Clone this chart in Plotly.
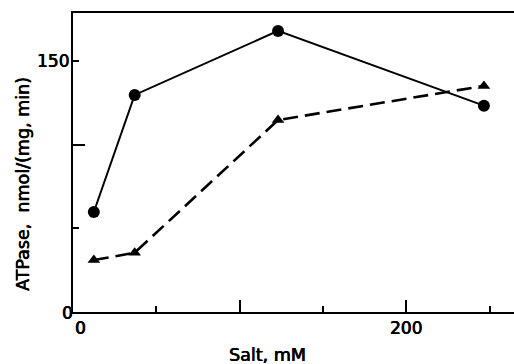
import plotly.graph_objects as go

# Data
salt_mm = [12.5, 37, 123, 246.5]
atpase_circles = [59.7, 129.6, 167.8, 123.2]
atpase_triangles = [31, 35.4, 114.6, 135]

x_major_ticks = [100, 200]
x_minor_ticks = [50, 150, 250]
y_major_ticks = [100]
y_minor_ticks = [50, 150]

W, H = 514, 364
L, R, T, B = 73, 0, 13, 52
PW = W - L - R
PH = H - T - B
FONT = "DejaVu Sans"
SHADOW = "0.45px 0 0 black, -0.2px 0 0 black"

def px2paper_x(px):
    return (px - L) / PW

def px2paper_y(py):
    return (H - B - py) / PH

fig = go.Figure()
fig.add_trace(go.Scatter(
    x=salt_mm, y=atpase_circles, mode="lines+markers",
    line=dict(color="black", width=2),
    marker=dict(symbol="circle", size=12, color="black"),
    showlegend=False, cliponaxis=False))
fig.add_trace(go.Scatter(
    x=salt_mm, y=atpase_triangles, mode="lines+markers",
    line=dict(color="black", width=2.6, dash="15px,7px"),
    marker=dict(symbol="triangle-up", size=11, color="black"),
    showlegend=False, cliponaxis=False))

fig.update_layout(
    width=W, height=H,
    margin=dict(l=L, r=R, t=T, b=B, pad=0),
    paper_bgcolor="white", plot_bgcolor="white",
    font=dict(family=FONT, size=17, color="black"),
    xaxis=dict(range=[0, PW / 1.667], showgrid=False, zeroline=False,
               showline=True, linecolor="black", linewidth=2, mirror=True,
               tickmode="array", tickvals=x_major_ticks, ticktext=["", ""],
               ticks="inside", ticklen=12, tickwidth=1.5, tickcolor="black",
               showticklabels=False,
               minor=dict(tickmode="array", tickvals=x_minor_ticks, ticks="inside",
                          ticklen=6, tickwidth=1.5, tickcolor="black")),
    yaxis=dict(range=[0, PH / 1.675], showgrid=False, zeroline=False,
               showline=True, linecolor="black", linewidth=2,
               tickmode="array", tickvals=y_major_ticks, ticktext=[""],
               ticks="inside", ticklen=12, tickwidth=1.5, tickcolor="black",
               showticklabels=False,
               minor=dict(tickmode="array", tickvals=y_minor_ticks, ticks="inside",
                          ticklen=6, tickwidth=1.5, tickcolor="black")),
)

ann = [
    # y tick labels
    dict(text="150", xref="paper", yref="y", x=px2paper_x(70.5), y=150,
         xanchor="right", yanchor="middle", font=dict(size=17)),
    dict(text="0", xref="paper", yref="paper", x=px2paper_x(67), y=px2paper_y(312.5),
         xanchor="center", yanchor="middle", font=dict(size=17)),
    # x tick labels
    dict(text="0", xref="paper", yref="paper", x=px2paper_x(80), y=px2paper_y(328),
         xanchor="center", yanchor="middle", font=dict(size=17)),
    dict(text="200", xref="x", yref="paper", x=200, y=px2paper_y(328),
         xanchor="center", yanchor="middle", font=dict(size=17)),
    # axis titles
    dict(text="Salt, mM", xref="paper", yref="paper", x=px2paper_x(267), y=px2paper_y(355),
         xanchor="center", yanchor="middle", font=dict(size=17.5)),
    dict(text="ATPase,  nmol/(mg, min)", xref="paper", yref="paper",
         x=px2paper_x(23), y=px2paper_y(184), textangle=-90,
         xanchor="center", yanchor="middle", font=dict(size=17.5)),
]
for a in ann:
    a["showarrow"] = False
    a["font"]["family"] = FONT
    a["font"]["color"] = "black"
    a["font"]["shadow"] = SHADOW
fig.update_layout(annotations=ann)

fig.write_html("out.html")
